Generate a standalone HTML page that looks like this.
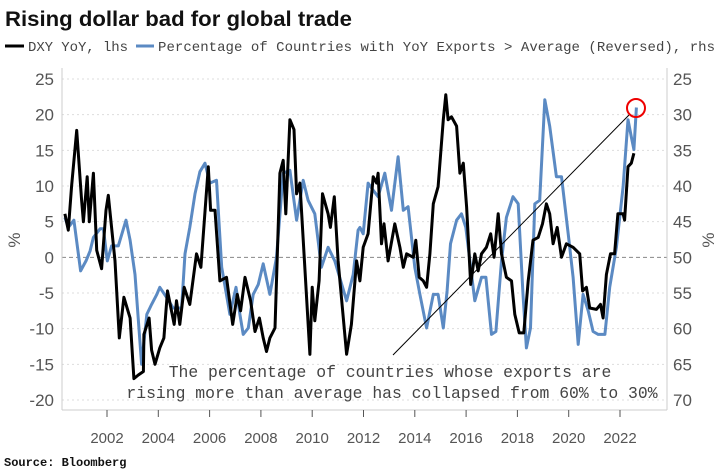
<!DOCTYPE html>
<html><head><meta charset="utf-8"><style>
body{margin:0;background:#fff;}
svg{display:block;}
</style></head><body>
<svg id="chart" width="721" height="476" xmlns="http://www.w3.org/2000/svg">
<text x="5" y="26" font-family="Liberation Sans, sans-serif" font-weight="bold" font-size="21" textLength="347" lengthAdjust="spacingAndGlyphs" fill="#111">Rising dollar bad for global trade</text>
<g font-family="Liberation Mono, monospace" font-size="14" fill="#444">
<line x1="5" y1="46" x2="24" y2="46" stroke="#000" stroke-width="3"/>
<text x="28" y="51" textLength="100">DXY YoY, lhs</text>
<line x1="136" y1="46" x2="154" y2="46" stroke="#5b8ac3" stroke-width="3"/>
<text x="158" y="51" textLength="557">Percentage of Countries with YoY Exports &gt; Average (Reversed), rhs</text>
</g>
<g id="plot"></g>
<text x="4" y="466" font-family="Liberation Mono, monospace" font-weight="bold" font-size="12" fill="#111">Source: Bloomberg</text>
</svg>
<script>
const yearsDxy=[2000.36,2000.49,2000.62,2000.82,2001.01,2001.08,2001.23,2001.31,2001.47,2001.60,2001.79,2001.96,2002.05,2002.31,2002.48,2002.66,2002.90,2003.05,2003.22,2003.42,2003.44,2003.64,2003.74,2003.87,2004.06,2004.22,2004.36,2004.62,2004.71,2004.84,2005.01,2005.23,2005.49,2005.66,2005.95,2006.04,2006.21,2006.40,2006.66,2006.90,2007.08,2007.21,2007.38,2007.60,2007.77,2007.94,2008.09,2008.22,2008.35,2008.55,2008.74,2008.87,2008.97,2009.13,2009.29,2009.39,2009.52,2009.91,2010.00,2010.10,2010.27,2010.40,2010.62,2010.71,2010.86,2011.01,2011.34,2011.53,2011.73,2011.86,2011.99,2012.18,2012.38,2012.51,2012.57,2012.70,2012.80,2012.96,2013.22,2013.42,2013.55,2013.68,2013.94,2014.04,2014.17,2014.33,2014.46,2014.59,2014.72,2014.91,2015.11,2015.21,2015.30,2015.43,2015.63,2015.76,2015.89,2016.02,2016.18,2016.34,2016.47,2016.60,2016.79,2016.96,2017.09,2017.25,2017.38,2017.57,2017.77,2017.90,2018.07,2018.25,2018.42,2018.61,2018.81,2018.98,2019.13,2019.26,2019.39,2019.55,2019.72,2019.91,2020.17,2020.43,2020.54,2020.69,2020.82,2021.08,2021.24,2021.34,2021.47,2021.63,2021.79,2021.92,2022.12,2022.18,2022.31,2022.44,2022.54];
const dxyValues=[6.1,3.8,10,17.8,8,5,11.3,5,11.8,1,-1.6,6.6,8.7,-0.5,-11.3,-5.6,-8.5,-17,-16.5,-16,-10.8,-8.5,-13,-15,-12.7,-11.3,-4.7,-9.4,-6.1,-9.4,-4.2,-6.6,0.5,-1.4,12.7,6.6,6.6,-3.3,-2.8,-9.4,-5.2,-7.5,-2.8,-6.1,-10.4,-8.5,-11.3,-13.2,-11.3,-9.9,11.8,13.6,6.1,19.3,17.9,8.9,10.4,-13.6,-4.2,-8.9,-3.3,8.9,6.1,4.2,8.5,-0.5,-13.6,-9.4,-0.5,-3.3,1.4,3.3,11.3,10.4,11.8,1.9,4.7,-0.5,4.7,1.4,-1.4,0.5,0,2.4,-2.8,-3.3,-4.2,0.5,7.5,9.9,19.3,22.8,19.3,19.7,18.4,11.8,13.2,7.1,-3.8,0.5,-1.9,0.5,1.4,3.3,0,6.1,0.5,-2.8,-3.3,-8,-10.6,-10.6,-3.3,2.4,2.8,4.7,7.5,6.1,1.9,4.2,0,1.9,1.4,0.5,-4.7,-4.2,-7.1,-7.3,-6.6,-8.5,-2.4,0.5,0.5,6.1,6.1,5.2,12.7,13.2,14.6];
const yearsExp=[2000.36,2000.49,2000.71,2000.97,2001.18,2001.34,2001.47,2001.73,2001.86,2002.01,2002.18,2002.44,2002.74,2002.90,2003.09,2003.35,2003.55,2003.74,2003.94,2004.06,2004.32,2004.58,2004.91,2005.04,2005.23,2005.43,2005.62,2005.82,2006.01,2006.27,2006.47,2006.79,2007.03,2007.18,2007.31,2007.51,2007.70,2007.90,2008.09,2008.35,2008.61,2008.87,2009.13,2009.39,2009.65,2009.84,2010.10,2010.36,2010.62,2010.88,2011.34,2011.60,2011.79,2011.86,2011.99,2012.18,2012.38,2012.57,2012.83,2013.09,2013.35,2013.55,2013.74,2014.00,2014.20,2014.46,2014.72,2014.91,2015.11,2015.26,2015.39,2015.63,2015.82,2015.99,2016.15,2016.34,2016.60,2016.77,2016.99,2017.16,2017.38,2017.57,2017.83,2018.03,2018.22,2018.35,2018.51,2018.68,2018.87,2019.07,2019.26,2019.52,2019.72,2019.98,2020.17,2020.37,2020.56,2020.76,2020.95,2021.15,2021.41,2021.60,2021.86,2022.12,2022.31,2022.44,2022.54,2022.64];
const exportValues=[44.4,45.8,44.8,51.9,50.5,49.1,47.2,46,46,50.5,48.4,48.4,44.8,47.6,52.4,65,58,56.6,55.2,54.2,55.6,57.1,57.1,49.5,45.8,41.1,38,36.8,39.6,39.2,51.4,58,54.2,58,60.8,59.9,55.2,53.8,50.9,55.2,50,38.2,37.8,44.8,39.2,42,43.9,51.4,48.6,50.5,56.1,52.4,46.2,45.8,46.7,39.6,40.6,41.5,38.2,43.4,35.9,43.4,42.9,51.4,55.2,59.9,55.2,55.2,59.9,54.7,48.1,44.8,43.9,45.8,50.5,56.1,52.8,52.8,60.8,60.4,50.5,44.4,41.5,42.5,55.2,62.7,59.9,42.5,42,27.9,31.6,38.7,38.7,46.7,52.8,62.2,55.2,57.5,60.4,60.8,60.8,54.2,48.6,40.1,30.7,33.1,34.9,29];
const leftTicks=[25,20,15,10,5,0,-5,-10,-15,-20];
const rightTicks=[25,30,35,40,45,50,55,60,65,70];
const xTicks=[2002,2004,2006,2008,2010,2012,2014,2016,2018,2020,2022];

const NS="http://www.w3.org/2000/svg";
const plot=document.getElementById('plot');
const X0=62,X1=667,YT=79,YB=400;
const xs=y=>107+(y-2002)*25.65;
const yL=v=>YT+(25-v)*(YB-YT)/45;
const yR=v=>YT+(v-25)*(YB-YT)/45;
function mk(tag,attrs){const e=document.createElementNS(NS,tag);for(const k in attrs)e.setAttribute(k,attrs[k]);plot.appendChild(e);return e;}
leftTicks.forEach(t=>{
  const y=yL(t);
  const g=mk('line',{x1:X0,x2:X1,y1:y,y2:y,stroke:t===0?'#888':'#ddd','stroke-width':1,'stroke-dasharray':t===0?'4,3':'2,3'});
  
  
  const tx=mk('text',{x:54,y:y+6,'text-anchor':'end','font-family':'Liberation Sans, sans-serif','font-size':17,fill:'#555'});
  tx.textContent=String(t).replace('-','-');
  
  
});
rightTicks.forEach(t=>{
  const tx=mk('text',{x:673,y:yR(t)+6,'font-family':'Liberation Sans, sans-serif','font-size':17,fill:'#555'});
  tx.textContent=t;
  
  
});
let a=mk('line',{x1:X0,x2:X0,y1:68,y2:410,stroke:'#ccc'});


a=mk('line',{x1:X1,x2:X1,y1:68,y2:410,stroke:'#ccc'});


a=mk('line',{x1:X0,x2:X1,y1:410,y2:410,stroke:'#ccc'});


xTicks.forEach(t=>{
  const x=xs(t);
  const l=mk('line',{x1:x,x2:x,y1:410,y2:417,stroke:'#555'});
  
  
  const tx=mk('text',{x:x,y:443,'text-anchor':'middle','font-family':'Liberation Sans, sans-serif','font-size':15,fill:'#555'});
  tx.textContent=t;
  
  
});
let t1=mk('text',{x:0,y:0,transform:'translate(20,240) rotate(-90)','text-anchor':'middle','font-family':'Liberation Sans, sans-serif','font-size':17,fill:'#555'});
t1.textContent='%';


t1=mk('text',{x:0,y:0,transform:'translate(714,240) rotate(-90)','text-anchor':'middle','font-family':'Liberation Sans, sans-serif','font-size':17,fill:'#555'});
t1.textContent='%';


let p=mk('path',{d:yearsExp.map((y,i)=>(i?'L':'M')+xs(y).toFixed(1)+','+yR(exportValues[i]).toFixed(1)).join(''),fill:'none',stroke:'#5b8ac3','stroke-width':3,'stroke-linejoin':'round'});


p=mk('path',{d:yearsDxy.map((y,i)=>(i?'L':'M')+xs(y).toFixed(1)+','+yL(dxyValues[i]).toFixed(1)).join(''),fill:'none',stroke:'#000','stroke-width':3,'stroke-linejoin':'round'});


p=mk('line',{x1:393,y1:355,x2:629,y2:115,stroke:'#000','stroke-width':1});


p=mk('circle',{cx:636,cy:108,r:9,fill:'none',stroke:'#e00','stroke-width':2});


p=mk('text',{x:390,y:377,'text-anchor':'middle','font-family':'Liberation Mono, monospace','font-size':16.4,fill:'#444'});
p.textContent='The percentage of countries whose exports are';


p=mk('text',{x:392,y:398,'text-anchor':'middle','font-family':'Liberation Mono, monospace','font-size':16.4,fill:'#444'});
p.textContent='rising more than average has collapsed from 60% to 30%';


</script>
</body></html>
